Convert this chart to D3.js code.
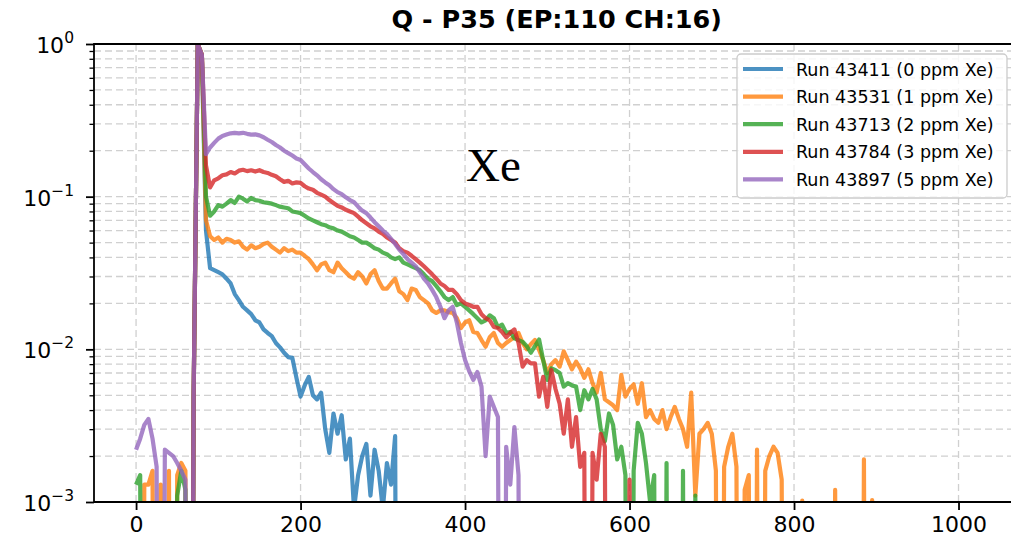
<!DOCTYPE html>
<html>
<head>
<meta charset="utf-8">
<script src="https://cdn.jsdelivr.net/npm/d3@7"></script>
<style>
  body { margin: 0; background: #fff; }
  svg { display: block; }
  text { font-family: "DejaVu Sans", sans-serif; fill: #000; }
</style>
</head>
<body>
<svg id="chart" width="1011" height="548"></svg>
<script>
// Normalised charge spectra, one value per 5-channel bin starting at channel 0.
const channelStep = 5;

const run43411 = [
  0, 0, 0, 0, 0, 0, 0, 0, 0, 0,
  0, 0, 0, 0, 0.005, 1.0, 0.8, 0.06, 0.034, 0.033,
  0.032, 0.031, 0.029, 0.027, 0.023, 0.021, 0.019, 0.018, 0.017, 0.0155,
  0.015, 0.0135, 0.0128, 0.0122, 0.011, 0.0103, 0.0095, 0.0089, 0.0088, 0.0065,
  0.0049, 0.0058, 0.0066, 0.005, 0.0047, 0.0052, 0.003, 0.0021, 0.0038, 0.0028,
  0.0037, 0.0019, 0.0026, 0.0009, 0.0015, 0.002, 0.0024, 0.0011, 0.0022, 0.0016,
  0.0009, 0.0018, 0.0013, 0.0027, 0
];

const run43531 = [
  0, 0, 0.0013, 0.0013, 0.0016, 0, 0.0013, 0, 0.0016, 0,
  0.0015, 0.0018, 0.0016, 0, 0.005, 1.0, 0.85, 0.07, 0.055, 0.052,
  0.054, 0.05, 0.053, 0.052, 0.05, 0.051, 0.047, 0.045, 0.048, 0.046,
  0.047, 0.049, 0.05, 0.047, 0.045, 0.043, 0.046, 0.044, 0.045, 0.043,
  0.043, 0.041, 0.039, 0.036, 0.033, 0.036, 0.037, 0.033, 0.032, 0.037,
  0.034, 0.032, 0.03, 0.029, 0.032, 0.03, 0.027, 0.031, 0.033, 0.028,
  0.025, 0.025, 0.027, 0.029, 0.024, 0.023, 0.021, 0.025, 0.0245, 0.022,
  0.021, 0.02, 0.018, 0.0173, 0.018, 0.018, 0.0175, 0.0173, 0.016, 0.0138,
  0.015, 0.0155, 0.013, 0.0128, 0.0115, 0.0104, 0.012, 0.0128, 0.011, 0.0104,
  0.011, 0.0115, 0.012, 0.0128, 0.011, 0.01, 0.0108, 0.0115, 0.0099, 0.0085,
  0.007, 0.008, 0.0085, 0.0077, 0.0097, 0.0085, 0.0074, 0.0083, 0.0075, 0.0065,
  0.0074, 0.006, 0.0052, 0.007, 0.0047, 0.0045, 0.0043, 0.004, 0.0068, 0.0049,
  0.0055, 0.0059, 0.0044, 0.006, 0.0036, 0.004, 0.0035, 0.0033, 0.004, 0.003,
  0.0036, 0.0042, 0.0035, 0.003, 0.0023, 0.0052, 0.0011, 0.0028, 0.003, 0.0033,
  0.0028, 0.0016, 0, 0.0017, 0.0023, 0.0028, 0.0017, 0, 0.0012, 0.0015,
  0, 0.0022, 0, 0.0016, 0.002, 0.0023, 0.0021, 0.0014, 0, 0,
  0, 0, 0.00102, 0, 0, 0, 0, 0, 0, 0,
  0.0012, 0, 0, 0, 0, 0, 0, 0.0019, 0, 0.00103,
  0
];

const run43713 = [
  0.0013, 0.0015, 0, 0, 0, 0, 0, 0, 0, 0,
  0.0011, 0.0016, 0.0012, 0, 0.005, 1.0, 0.85, 0.1, 0.075, 0.08,
  0.088, 0.086, 0.09, 0.095, 0.091, 0.1, 0.097, 0.093, 0.098, 0.095,
  0.094, 0.092, 0.091, 0.09, 0.088, 0.086, 0.085, 0.084, 0.08, 0.079,
  0.078, 0.075, 0.072, 0.07, 0.068, 0.066, 0.065, 0.063, 0.062, 0.06,
  0.059, 0.057, 0.055, 0.054, 0.052, 0.05, 0.05, 0.048, 0.046, 0.045,
  0.043, 0.042, 0.04, 0.039, 0.04, 0.037, 0.036, 0.035, 0.034, 0.033,
  0.031, 0.029, 0.028, 0.026, 0.024, 0.022, 0.021, 0.022, 0.0195, 0.02,
  0.019, 0.018, 0.017, 0.016, 0.015, 0.0155, 0.0167, 0.016, 0.014, 0.0145,
  0.0128, 0.013, 0.0118, 0.0115, 0.0112, 0.0105, 0.0095, 0.0105, 0.0116, 0.0085,
  0.0063, 0.0075, 0.0073, 0.007, 0.0057, 0.006, 0.0058, 0.0057, 0.004, 0.0054,
  0.0047, 0.0055, 0.0047, 0.003, 0.0025, 0.0038, 0.0032, 0.0019, 0.0023, 0.0015,
  0, 0.0016, 0.0033, 0.0028, 0.0018, 0.001, 0.0015, 0, 0, 0.0018,
  0, 0, 0, 0.0016, 0, 0, 0.0011, 0
];

const run43784 = [
  0, 0, 0, 0, 0, 0, 0, 0, 0, 0,
  0, 0, 0, 0, 0.005, 1.0, 0.85, 0.16, 0.115, 0.128,
  0.132, 0.138, 0.14, 0.145, 0.142, 0.148, 0.15, 0.147, 0.149, 0.146,
  0.149, 0.145, 0.143, 0.139, 0.136, 0.13, 0.125, 0.127, 0.122, 0.124,
  0.123, 0.117, 0.113, 0.111, 0.106, 0.103, 0.1, 0.095, 0.091, 0.087,
  0.085, 0.082, 0.08, 0.078, 0.074, 0.07, 0.067, 0.064, 0.062, 0.059,
  0.057, 0.054, 0.052, 0.05, 0.046, 0.044, 0.043, 0.041, 0.039, 0.037,
  0.035, 0.033, 0.031, 0.029, 0.027, 0.026, 0.0245, 0.0245, 0.023, 0.021,
  0.02, 0.0195, 0.019, 0.019, 0.017, 0.016, 0.0155, 0.014, 0.0138, 0.013,
  0.012, 0.0128, 0.0135, 0.011, 0.0077, 0.0085, 0.0081, 0.0081, 0.0049, 0.0066,
  0.0042, 0.0073, 0.0055, 0.0044, 0.0028, 0.0047, 0.0023, 0.0036, 0.0017, 0.0021,
  0, 0.0021, 0.0014, 0.0028, 0.0023, 0, 0, 0, 0, 0,
  0.0014, 0
];

const run43897 = [
  0.0022, 0.0026, 0.0032, 0.0035, 0.0026, 0.0017, 0, 0.0022, 0.0021, 0.002,
  0.0018, 0.0016, 0.0014, 0, 0.005, 1.0, 0.85, 0.19, 0.21, 0.225,
  0.24, 0.25, 0.255, 0.26, 0.262, 0.26, 0.262, 0.258, 0.255, 0.256,
  0.252, 0.245, 0.236, 0.228, 0.218, 0.21, 0.2, 0.193, 0.186, 0.178,
  0.174, 0.163, 0.153, 0.145, 0.138, 0.13, 0.124, 0.119, 0.112, 0.107,
  0.104, 0.099, 0.095, 0.092, 0.086, 0.081, 0.078, 0.073, 0.068, 0.064,
  0.06, 0.057, 0.053, 0.049, 0.045, 0.042, 0.039, 0.037, 0.035, 0.032,
  0.029, 0.027, 0.0245, 0.022, 0.019, 0.016, 0.018, 0.019, 0.015, 0.011,
  0.0085, 0.0072, 0.0063, 0.0071, 0.0057, 0.002, 0.0049, 0.0042, 0.0036, 0,
  0.0023, 0.0013, 0.0031, 0.0015, 0
];

const seriesLabels = [
  "Run 43411 (0 ppm Xe)",
  "Run 43531 (1 ppm Xe)",
  "Run 43713 (2 ppm Xe)",
  "Run 43784 (3 ppm Xe)",
  "Run 43897 (5 ppm Xe)"
];
const xTickValues = [0, 200, 400, 600, 800, 1000];
const yMajorExponents = [-3, -2, -1, 0];
const chartTitle = "Q - P35 (EP:110 CH:16)";
const annotationText = "Xe";

const palette = ["#1f77b4", "#ff7f0e", "#2ca02c", "#d62728", "#9467bd"];

const svg = d3.select("#chart");
const plot = { left: 94, right: 1019.5, top: 44, bottom: 502 };

const x = d3.scaleLinear().domain([-51.15, 1074.15]).range([plot.left, plot.right]);
const y = d3.scaleLog().domain([1e-3, 1]).range([plot.bottom, plot.top]);

// gridlines: y at every decade and sub-decade, x at major ticks
const yMinor = [];
yMajorExponents.slice(0, -1).forEach(e => {
  for (let m = 2; m <= 9; m++) yMinor.push(m * Math.pow(10, e));
});
const yMajor = yMajorExponents.map(e => Math.pow(10, e));

const grid = svg.append("g").attr("stroke", "#d0d0d0").attr("stroke-width", 1.3)
  .attr("stroke-dasharray", "7,4");
grid.selectAll("line.gy").data(yMajor.concat(yMinor)).join("line")
  .attr("x1", plot.left).attr("x2", plot.right)
  .attr("y1", d => y(d)).attr("y2", d => y(d));
grid.selectAll("line.gx").data(xTickValues).join("line")
  .attr("y1", plot.top).attr("y2", plot.bottom)
  .attr("x1", d => x(d)).attr("x2", d => x(d));

// data lines
svg.append("clipPath").attr("id", "plotClip").append("rect")
  .attr("x", plot.left).attr("y", plot.top)
  .attr("width", plot.right - plot.left).attr("height", plot.bottom - plot.top);

const series = [run43411, run43531, run43713, run43784, run43897].map((vals, i) => ({
  label: seriesLabels[i],
  color: palette[i],
  points: vals.map((v, j) => ({ ch: j * channelStep, v }))
}));

const line = d3.line()
  .x(d => x(d.ch))
  .y(d => y(Math.max(d.v, 1e-9)));

svg.append("g").attr("clip-path", "url(#plotClip)")
  .selectAll("path").data(series).join("path")
  .attr("d", d => line(d.points))
  .attr("fill", "none")
  .attr("stroke", d => d.color)
  .attr("stroke-opacity", 0.8)
  .attr("stroke-width", 4.2)
  .attr("stroke-linejoin", "round");

// spines
const spines = svg.append("g").attr("stroke", "#000").attr("stroke-width", 1.8);
spines.append("line").attr("x1", plot.left).attr("x2", plot.left).attr("y1", plot.top - 0.9).attr("y2", plot.bottom + 0.9);
spines.append("line").attr("x1", plot.left).attr("x2", plot.right).attr("y1", plot.bottom).attr("y2", plot.bottom);
spines.append("line").attr("x1", plot.left).attr("x2", plot.right).attr("y1", plot.top).attr("y2", plot.top);
spines.append("line").attr("x1", plot.right).attr("x2", plot.right).attr("y1", plot.top).attr("y2", plot.bottom);

// x axis
const xAxis = svg.append("g").attr("transform", `translate(0,${plot.bottom})`)
  .call(d3.axisBottom(x).tickValues(xTickValues).tickSize(8).tickPadding(6).tickFormat(d3.format("d")));
xAxis.select(".domain").remove();
xAxis.selectAll(".tick line").attr("stroke", "#000").attr("stroke-width", 1.8);
xAxis.selectAll(".tick text").attr("font-size", 22).attr("font-family", "DejaVu Sans").attr("fill", "#000");

// y axis: major ticks with power-of-ten labels, minor ticks unlabeled
const yAxis = svg.append("g").attr("transform", `translate(${plot.left},0)`)
  .call(d3.axisLeft(y).tickValues(yMajor).tickSize(8).tickFormat(""));
yAxis.select(".domain").remove();
yAxis.selectAll(".tick line").attr("stroke", "#000").attr("stroke-width", 1.8);
const yMinorAxis = svg.append("g").attr("transform", `translate(${plot.left},0)`)
  .call(d3.axisLeft(y).tickValues(yMinor).tickSize(4.5).tickFormat(""));
yMinorAxis.select(".domain").remove();
yMinorAxis.selectAll(".tick line").attr("stroke", "#000").attr("stroke-width", 1.3);

const yLabels = svg.append("g");
yMajorExponents.forEach(e => {
  const t = yLabels.append("text")
    .attr("x", 74).attr("y", y(Math.pow(10, e)) + 9)
    .attr("text-anchor", "end").attr("font-size", 22);
  t.append("tspan").text("10");
  t.append("tspan").attr("dy", -10).attr("font-size", 15.5)
    .text(e < 0 ? "\u2212" + Math.abs(e) : String(e));
});

// title
svg.append("text")
  .attr("x", (plot.left + plot.right) / 2).attr("y", 28)
  .attr("text-anchor", "middle")
  .attr("font-size", 25.5).attr("font-weight", "bold")
  .text(chartTitle);

// annotation
svg.append("text")
  .attr("x", 466).attr("y", 181)
  .style("font-family", "'Liberation Serif', serif")
  .attr("font-size", 47)
  .text(annotationText);

// legend
const legend = svg.append("g");
legend.append("rect")
  .attr("x", 737).attr("y", 54).attr("width", 270).attr("height", 144)
  .attr("rx", 4).attr("fill", "#fff").attr("fill-opacity", 0.8)
  .attr("stroke", "#cccccc").attr("stroke-width", 1.3);
series.forEach((s, i) => {
  const cy = 69 + i * 27.6;
  legend.append("line")
    .attr("x1", 743).attr("x2", 783).attr("y1", cy).attr("y2", cy)
    .attr("stroke", s.color).attr("stroke-opacity", 0.8).attr("stroke-width", 4.2);
  legend.append("text")
    .attr("x", 796).attr("y", cy + 6.5)
    .attr("font-size", 17.5)
    .text(s.label);
});
</script>
</body>
</html>
